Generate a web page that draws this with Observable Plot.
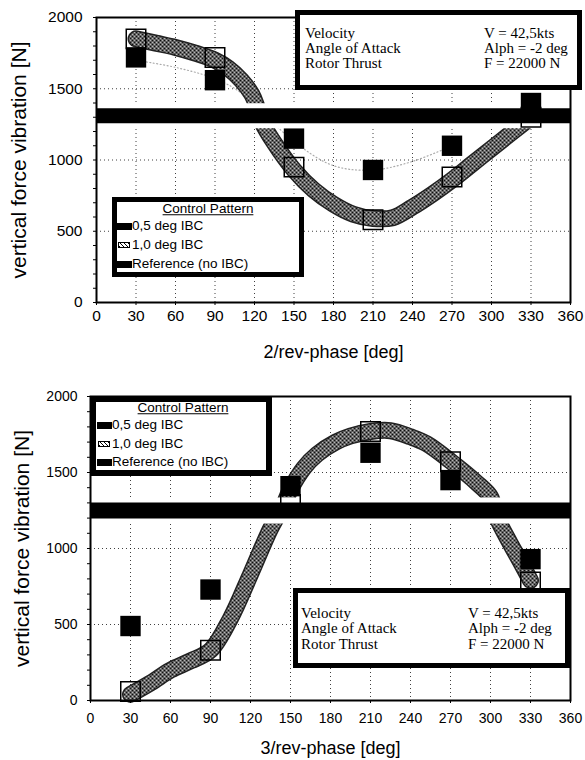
<!DOCTYPE html>
<html><head><meta charset="utf-8">
<script src="https://cdn.jsdelivr.net/npm/d3@7"></script>
<script src="https://cdn.jsdelivr.net/npm/@observablehq/plot@0.6"></script>
<style>
body{margin:0;background:#fff;}
#wrap{position:relative;width:585px;height:760px;overflow:hidden;font-family:"Liberation Sans",Arial,sans-serif;color:#000;}
.plot{position:absolute;left:0;}
.box{position:absolute;box-sizing:border-box;border:5px solid #000;background:#fff;}
.t{position:absolute;white-space:nowrap;transform:translateY(-50%);line-height:1;}
.lg{font-size:13.5px;}
.ttl{text-decoration:underline;transform:translate(-50%,-50%);}
.info{font-family:"Liberation Serif","Times New Roman",serif;font-size:15px;}
.sym{position:absolute;background:#000;}
.hsym{position:absolute;background:repeating-linear-gradient(45deg,#000 0 1px,#fff 1px 3px),#fff;border:1px solid #000;box-sizing:border-box;}
</style>
</head><body>
<div id="wrap"></div>
<script>
// ---------------- data ----------------
const phases = [30, 90, 150, 210, 270, 330];
const xTicks = [0, 30, 60, 90, 120, 150, 180, 210, 240, 270, 300, 330, 360];
const xGrid = [30, 60, 90, 120, 150, 180, 210, 240, 270, 300, 330];
const yTicks = [0, 500, 1000, 1500, 2000];
const yGrid = [500, 1000, 1500];
const yMinor = d3.range(0, 2001, 100);

// top panel (2/rev)
const top05 = [1720, 1560, 1150, 930, 1100, 1400];
const top10 = [1850, 1720, 950, 580, 880, 1300];
const topRef = 1310;
const topFitX = [30, 45, 60, 75, 90, 100, 110, 118, 122, 126, 135, 150, 165, 180, 195, 210, 225, 240, 255, 270, 285, 300, 315, 330];
const topFit10 = [1850, 1820, 1790, 1750, 1700, 1645, 1560, 1460, 1370, 1260, 1120, 930, 790, 690, 620, 590, 595, 670, 760, 860, 970, 1080, 1190, 1300];
const topFit05X = [30, 60, 90, 110, 150, 180, 210, 240, 270];
const topFit05 = [1700, 1650, 1570, 1470, 1130, 960, 930, 990, 1100];

// bottom panel (3/rev)
const bot05 = [490, 730, 1410, 1630, 1450, 930];
const bot10 = [60, 330, 1290, 1770, 1570, 780];
const botRef = 1250;
const botFitX = [30, 45, 60, 75, 90, 105, 120, 135, 145, 150, 160, 170, 184, 195, 210, 225, 240, 252, 270, 290, 300, 305, 315, 322, 330];
const botFit10 = [40, 115, 200, 260, 330, 540, 830, 1130, 1290, 1390, 1530, 1620, 1700, 1740, 1770, 1775, 1735, 1690, 1575, 1430, 1340, 1200, 1030, 920, 790];

// ---------------- helpers ----------------
const pts = (xs, ys) => xs.map((x, i) => ({phase: x, v: ys[i]}));
function defsMark(id) {
  return () => {
    const g = d3.create("svg:g");
    const p = g.append("defs").append("pattern").attr("id", id)
      .attr("width", 4).attr("height", 4).attr("patternUnits", "userSpaceOnUse");
    p.append("rect").attr("width", 4).attr("height", 4).attr("fill", "#fff");
    p.append("path").attr("d", "M0,0L4,4M4,0L0,4M-1,3L1,5M3,-1L5,1").attr("stroke", "#000").attr("stroke-width", 1.1);
    return g.node();
  };
}

function panel(o) {
  return Plot.plot({
    width: 585, height: o.height,
    marginLeft: o.ml, marginRight: 15, marginTop: o.mt, marginBottom: o.mb,
    style: {fontFamily: "Liberation Sans, Arial, sans-serif", background: "transparent", color: "#000", overflow: "visible"},
    x: {domain: [0, 360]},
    y: {domain: [0, 2000]},
    marks: [
      defsMark(o.id),
      Plot.gridX(xGrid, {stroke: "#000", strokeOpacity: 0.75, strokeDasharray: "1,3"}),
      Plot.gridY(yGrid, {stroke: "#000", strokeOpacity: 0.75, strokeDasharray: "1,3"}),
      o.fit05 ? Plot.line(o.fit05, {x: "phase", y: "v", stroke: "#aaa", strokeWidth: 1.2, strokeDasharray: "1,2.5", curve: "catmull-rom"}) : null,
      Plot.line(o.fit10, {x: "phase", y: "v", stroke: "#222", strokeWidth: 17, curve: "catmull-rom"}),
      Plot.line(o.fit10, {x: "phase", y: "v", stroke: `url(#${o.id})`, strokeWidth: 14, curve: "catmull-rom"}),
      Plot.ruleY([o.ref], {stroke: "#fff", strokeWidth: o.refW + 10}),
      Plot.dot(o.open, {x: "phase", y: "v", symbol: "square", r: 11, fill: "none", stroke: "#000", strokeWidth: 1.5}),
      Plot.dot(o.black, {x: "phase", y: "v", symbol: "square", r: 11.5, fill: "#000", stroke: "none"}),
      Plot.ruleY([o.ref], {stroke: "#000", strokeWidth: o.refW}),
      Plot.frame({stroke: "#000", strokeWidth: 2}),
      Plot.axisX({ticks: xTicks, tickSize: 3, tickPadding: o.xpad, fontSize: o.fs, tickFormat: d3.format("d"), label: null}),
      Plot.axisX({ticks: [], label: o.xlabel, labelAnchor: "center", labelOffset: o.xlo, labelArrow: "none", fontSize: 18}),
      Plot.axisY({ticks: yTicks, tickSize: 0, tickPadding: o.ypad, fontSize: o.fs, tickFormat: d3.format("d"), label: null}),
      Plot.axisY({ticks: yMinor, tickSize: 3, tickFormat: () => "", label: null}),
      Plot.axisY({ticks: [], label: "vertical force vibration [N]", labelAnchor: "center", labelOffset: o.ylo, labelArrow: "none", fontSize: 21})
    ]
  });
}

const wrap = document.getElementById("wrap");
const p1 = panel({id: "hatchTop", height: 362, ml: 96, mt: 17, mb: 60, xpad: 4.5, ypad: 14, fs: 15.5, ylo: 85.5, xlo: 55,
  xlabel: "2/rev-phase [deg]", ref: topRef, refW: 15,
  fit10: pts(topFitX, topFit10), fit05: pts(topFit05X, topFit05),
  open: pts(phases, top10), black: pts(phases, top05)});
p1.classList.add("plot"); p1.style.top = "0px";
wrap.appendChild(p1);

const p2 = panel({id: "hatchBot", height: 390, ml: 90, mt: 26, mb: 60, xpad: 10, ypad: 13, fs: 14, ylo: 76.5, xlo: 53,
  xlabel: "3/rev-phase [deg]", ref: botRef, refW: 16,
  fit10: pts(botFitX, botFit10), fit05: null,
  open: pts(phases, bot10), black: pts(phases, bot05)});
p2.classList.add("plot"); p2.style.top = "370px";
wrap.appendChild(p2);

// ---------------- legends & info boxes (HTML overlays) ----------------
const legendTitle = "Control Pattern";
const legendRows = ["0,5 deg IBC", "1,0 deg IBC", "Reference (no IBC)"];
const infoLabels = ["Velocity", "Angle of Attack", "Rotor Thrust"];
const infoValues = ["V = 42,5kts", "Alph = -2 deg", "F = 22000 N"];

function el(cls, css, text) {
  const d = document.createElement("div");
  d.className = cls;
  Object.assign(d.style, css);
  if (text != null) d.textContent = text;
  wrap.appendChild(d);
  return d;
}
function legend(L) {
  el("box", {left: L.x + "px", top: L.y + "px", width: L.w + "px", height: L.h + "px", borderWidth: L.bw + "px"});
  el("t lg ttl", {left: L.tx + "px", top: L.ty + "px"}, legendTitle);
  legendRows.forEach((r, i) => {
    const cy = L.rows[i];
    el("t lg", {left: L.textX + "px", top: cy + "px"}, r);
    if (i === 1) el("hsym", {left: L.sx + 1 + "px", top: cy - 3 + "px", width: "12px", height: "6px"});
    else el("sym", {left: L.sx + "px", top: cy - 3 + "px", width: "15px", height: "7px"});
  });
}
function info(I) {
  el("box", {left: I.x + "px", top: I.y + "px", width: I.w + "px", height: I.h + "px"});
  infoLabels.forEach((s, i) => el("t info", {left: I.c1 + "px", top: I.rows[i] + "px"}, s));
  infoValues.forEach((s, i) => el("t info", {left: I.c2 + "px", top: I.rows[i] + "px"}, s));
}

legend({x: 112, y: 197, w: 192, h: 80, bw: 5, tx: 208, ty: 209, rows: [226, 245, 264], textX: 132, sx: 117});
legend({x: 90, y: 396, w: 182, h: 80, bw: 6, tx: 183, ty: 408, rows: [425, 444, 462], textX: 112, sx: 97});
info({x: 295, y: 10, w: 287, h: 80, c1: 305, c2: 484, rows: [33, 48, 63]});
info({x: 293, y: 588, w: 277, h: 80, c1: 301, c2: 468, rows: [613, 628, 644]});
</script>
</body></html>
